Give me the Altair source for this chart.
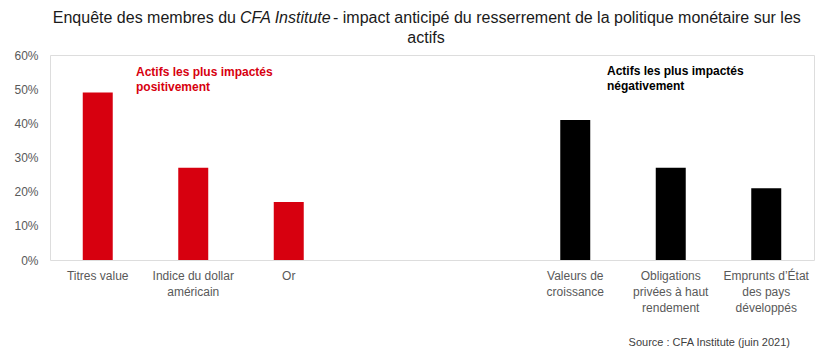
import altair as alt
import pandas as pd

categories = ["Titres value", "Indice du dollar|américain", "Or",
              "Valeurs de|croissance", "Obligations|privées à haut|rendement",
              "Emprunts d’État|des pays|développés"]
values = [0.49, 0.27, 0.17, 0.41, 0.27, 0.21]
groups = ["pos", "pos", "pos", "neg", "neg", "neg"]
domain = categories[:3] + ["_a", "_b"] + categories[3:]
y_ticks = [0, 0.1, 0.2, 0.3, 0.4, 0.5, 0.6]

df = pd.DataFrame({"cat": categories, "val": values, "grp": groups})

FONT = "Liberation Sans"

bars = alt.Chart(df).mark_bar().encode(
    x=alt.X("cat:N", sort=domain,
            scale=alt.Scale(domain=domain, paddingInner=0.686, paddingOuter=0.343),
            axis=alt.Axis(title=None, labelAngle=0, domain=False, ticks=False,
                          labelPadding=10, labelFontSize=12, labelColor="#595959",
                          labelFont=FONT, labelLineHeight=16, labelBaseline="top",
                          labelOverlap=False,
                          labelExpr="indexof(datum.label,'_')==0 ? '' : split(datum.label,'|')")),
    y=alt.Y("val:Q", scale=alt.Scale(domain=[0, 0.6]),
            axis=alt.Axis(title=None, format=".0%", values=y_ticks, labelOverlap=False,
                          domain=False, ticks=False, grid=False, labelPadding=12,
                          labelFontSize=12, labelColor="#595959", labelFont=FONT)),
    color=alt.Color("grp:N", scale=alt.Scale(domain=["pos", "neg"], range=["#D7000F", "#000000"]),
                    legend=None),
)

def txt(s, x, y, align="left", size=12, color="#000000", weight="normal", style="normal", font=FONT):
    return alt.Chart(pd.DataFrame({"t": [s]})).mark_text(
        align=align, baseline="middle", fontSize=size, color=color,
        fontWeight=weight, fontStyle=style, font=font
    ).encode(text="t:N", x=alt.value(x), y=alt.value(y))

ox, oy = 50, 55
layers = [
    bars,
    txt("Enquête des membres du", 236 - ox, 18 - oy, align="right", size=16, color="#1a1a1a"),
    txt("CFA Institute", 240 - ox, 18 - oy, align="left", size=16, color="#1a1a1a", style="italic"),
    txt("- impact anticipé du resserrement de la politique monétaire sur les", 333 - ox, 18 - oy,
        align="left", size=16, color="#1a1a1a"),
    txt("actifs", 426 - ox, 38 - oy, align="center", size=16, color="#1a1a1a"),
    txt("Actifs les plus impactés", 136 - ox, 72 - oy, color="#D7000F", weight="bold"),
    txt("positivement", 136 - ox, 87 - oy, color="#D7000F", weight="bold"),
    txt("Actifs les plus impactés", 607 - ox, 71 - oy, weight="bold"),
    txt("négativement", 607 - ox, 86 - oy, weight="bold"),
    txt("Source : CFA Institute (juin 2021)", 790 - ox, 343 - oy, align="right", size=11, color="#404040"),
]

chart = alt.layer(*layers).properties(
    width=764, height=205,
    autosize=alt.AutoSizeParams(type="none"),
    padding={"left": 50, "top": 55, "right": 7, "bottom": 91},
).configure_view(stroke=None).configure(background="white")

chart.save("out.html", embed_options={"renderer": "svg", "actions": False})
